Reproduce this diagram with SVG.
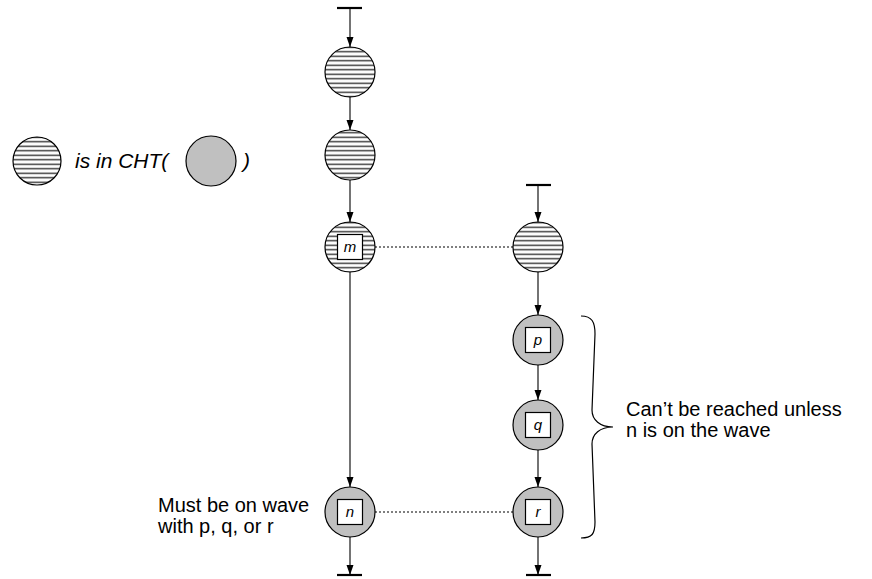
<svg xmlns="http://www.w3.org/2000/svg" width="872" height="579" viewBox="0 0 872 579">
  <style>
    text { font-family: "Liberation Sans", Arial, sans-serif; fill: #000; }
    .lbl { font-size: 20px; }
    .leg { font-size: 21px; font-style: italic; }
    .hatch { fill: url(#hlines); stroke: #000; stroke-width: 1.2; }
    .gray { fill: #c0c0c0; stroke: #000; stroke-width: 1.2; }
    .box { fill: #fff; stroke: #000; stroke-width: 1.2; }
    .tag { font-size: 15px; font-style: italic; text-anchor: middle; }
    .edge { stroke: #000; stroke-width: 1.1; fill: none; marker-end: url(#arrow); }
    .dot { stroke: #000; stroke-width: 1.1; stroke-dasharray: 2 2; fill: none; }
    .bar { stroke: #000; stroke-width: 2.2; }
  </style>
  <defs>
    <pattern id="hlines" patternUnits="userSpaceOnUse" width="10" height="4.5">
      <rect width="10" height="4.5" fill="#fff"/>
      <line x1="0" y1="2.25" x2="10" y2="2.25" stroke="#333" stroke-width="1.4"/>
    </pattern>
    <marker id="arrow" markerWidth="10" markerHeight="8" refX="10" refY="4" orient="auto" markerUnits="userSpaceOnUse">
      <path d="M0,0.5 L10,4 L0,7.5 Z" fill="#000"/>
    </marker>
  </defs>

  <!-- legend: hatched node is in CHT(gray node) -->
  <g id="legend">
    <circle class="hatch" cx="37" cy="161" r="24"/>
    <text class="leg" x="75" y="168">is in CHT(</text>
    <circle class="gray" cx="211" cy="161" r="25"/>
    <text class="leg" x="243" y="168">)</text>
  </g>

  <!-- connectors -->
  <g id="connectors">
    <line class="bar" x1="337" y1="8" x2="362" y2="8"/>
    <line class="edge" x1="350" y1="8" x2="350" y2="47"/>
    <line class="edge" x1="350" y1="97" x2="350" y2="130"/>
    <line class="edge" x1="350" y1="180" x2="350" y2="222"/>
    <line class="edge" x1="350" y1="272" x2="350" y2="487"/>
    <line class="edge" x1="350" y1="537" x2="350" y2="575"/>
    <line class="bar" x1="337" y1="575" x2="362" y2="575"/>

    <line class="bar" x1="526" y1="185" x2="551" y2="185"/>
    <line class="edge" x1="538" y1="185" x2="538" y2="222"/>
    <line class="edge" x1="538" y1="272" x2="538" y2="315"/>
    <line class="edge" x1="538" y1="365" x2="538" y2="400"/>
    <line class="edge" x1="538" y1="450" x2="538" y2="487"/>
    <line class="edge" x1="538" y1="537" x2="538" y2="575"/>
    <line class="bar" x1="526" y1="575" x2="551" y2="575"/>

    <line class="dot" x1="375" y1="247" x2="513" y2="247"/>
    <line class="dot" x1="375" y1="512" x2="513" y2="512"/>
  </g>

  <!-- left column -->
  <g id="a1"><circle class="hatch" cx="350" cy="72" r="25"/></g>
  <g id="a2"><circle class="hatch" cx="350" cy="155" r="25"/></g>
  <g id="m">
    <circle class="hatch" cx="350" cy="247" r="25"/>
    <rect class="box" x="337.5" y="234.5" width="25" height="25"/>
    <text class="tag" x="350" y="252">m</text>
  </g>
  <g id="n">
    <circle class="gray" cx="350" cy="512" r="25"/>
    <rect class="box" x="337.5" y="499.5" width="25" height="25"/>
    <text class="tag" x="350" y="517">n</text>
  </g>

  <!-- right column -->
  <g id="b1"><circle class="hatch" cx="538" cy="247" r="25"/></g>
  <g id="p">
    <circle class="gray" cx="538" cy="340" r="25"/>
    <rect class="box" x="525.5" y="327.5" width="25" height="25"/>
    <text class="tag" x="538" y="345">p</text>
  </g>
  <g id="q">
    <circle class="gray" cx="538" cy="425" r="25"/>
    <rect class="box" x="525.5" y="412.5" width="25" height="25"/>
    <text class="tag" x="538" y="430">q</text>
  </g>
  <g id="r">
    <circle class="gray" cx="538" cy="512" r="25"/>
    <rect class="box" x="525.5" y="499.5" width="25" height="25"/>
    <text class="tag" x="538" y="517">r</text>
  </g>

  <!-- brace over p, q, r with its note -->
  <g id="brace">
    <path d="M581,316 C592,316 595,322 595,334 L592,410 C592,420 600,427 613,427 C600,427 592,434 592,444 L595,522 C595,534 592,538 581,538" fill="none" stroke="#000" stroke-width="1.2"/>
    <text class="lbl" x="626" y="416">Can’t be reached unless</text>
    <text class="lbl" x="626" y="437">n is on the wave</text>
  </g>
  <g id="note-n">
    <text class="lbl" x="158" y="512">Must be on wave</text>
    <text class="lbl" x="158" y="533">with p, q, or r</text>
  </g>
</svg>
